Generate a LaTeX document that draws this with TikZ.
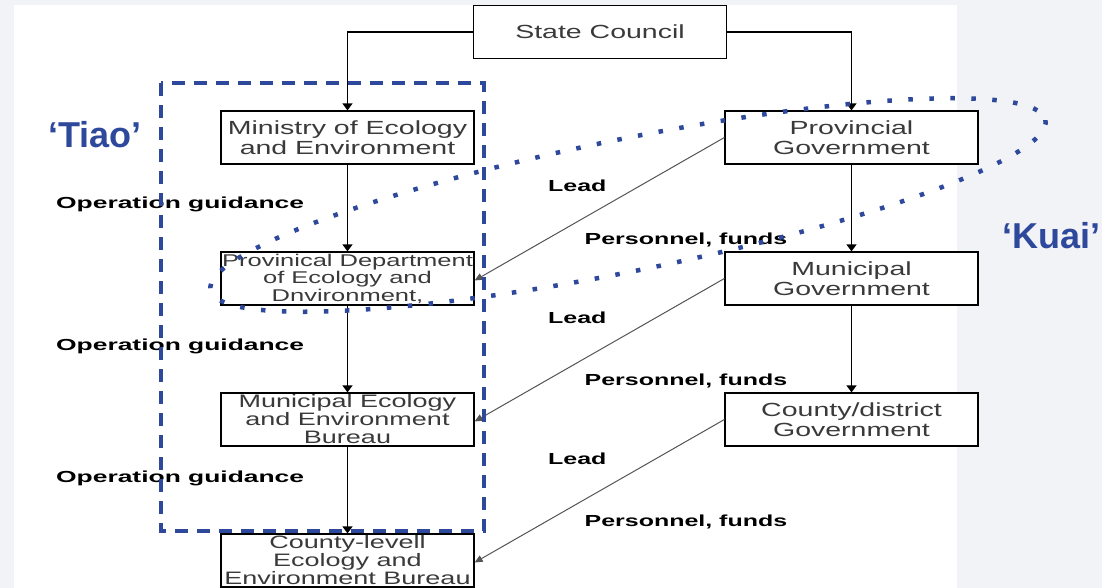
\documentclass[tikz,border=0pt]{standalone}
\usepackage{fontspec}
\setmainfont{Liberation Sans}
\newfontfamily\boxfont[FakeStretch=1.5]{Liberation Sans}
\newfontfamily\lblfont[FakeStretch=1.56]{Liberation Sans}
\newfontfamily\ogfont[FakeStretch=1.65]{Liberation Sans}
\usetikzlibrary{arrows.meta}
\definecolor{bgc}{HTML}{F1F3F6}
\definecolor{tblue}{HTML}{2E489C}
\definecolor{boxtxt}{HTML}{3A3A3A}
\definecolor{diag}{HTML}{555555}
\tikzset{
  orgbox/.style={draw=black, line width=1.2pt, fill=white, minimum width=253pt, minimum height=53pt,
     inner sep=0pt, align=center, text=boxtxt, font=\boxfont\fontsize{19}{19.5}\selectfont},
  orgbox3/.style={orgbox, font=\boxfont\fontsize{17}{17.5}\selectfont},
  orgbox3b/.style={orgbox, font=\boxfont\fontsize{18}{18}\selectfont},
  vline/.style={draw=black, line width=1.3pt, -{Triangle[width=10pt,length=7pt]}},
  dline/.style={draw=diag, line width=1pt, -{Triangle[width=7pt,length=8pt]}},
  lbl/.style={anchor=base west, inner sep=0pt, font=\lblfont\bfseries\fontsize{16}{16}\selectfont, text=black},
  oglbl/.style={lbl, font=\ogfont\bfseries\fontsize{16}{16}\selectfont},
  bigl/.style={anchor=base west, inner sep=0pt, font=\bfseries\fontsize{36}{36}\selectfont, text=tblue},
}
\begin{document}
\begin{tikzpicture}[x=1pt,y=-1pt]
\useasboundingbox (0,0) rectangle (1102,588);
\fill[bgc] (0,0) rectangle (1102,588);
\fill[white] (14,5) rectangle (957,588);

% boxes
\node[orgbox] (sc) at (600,32) {State Council};
\node[orgbox] (mee) at (347.5,137.5) {Ministry of Ecology\\and Environment};
\node[orgbox3] (pde) at (347.5,278.5) {Provinical Department\\of Ecology and\\Dnvironment,};
\node[orgbox3b] (meb) at (347.5,419.5) {Municipal Ecology\\and Environment\\Bureau};
\node[orgbox3b] (ceb) at (347.5,560.5) {County-levell\\Ecology and\\Environment Bureau};
\node[orgbox] (pg) at (851.5,137.5) {Provincial\\Government};
\node[orgbox] (mg) at (851.5,278.5) {Municipal\\Government};
\node[orgbox] (cg) at (851.5,419.5) {County/district\\Government};

% vertical connectors
\draw[vline] (sc.west) -| (mee.north);
\draw[vline] (sc.east) -| (pg.north);
\draw[vline] (mee) -- (pde);
\draw[vline] (pde) -- (meb);
\draw[vline] (meb) -- (ceb);
\draw[vline] (pg) -- (mg);
\draw[vline] (mg) -- (cg);

% diagonal connectors
\draw[dline] (pg.west) -- ([yshift=-2pt]pde.east);
\draw[dline] (mg.west) -- ([yshift=-2pt]meb.east);
\draw[dline] (cg.west) -- ([yshift=-2pt]ceb.east);

% labels
\node[oglbl] (og1) at (56,208) {Operation guidance};
\node[oglbl] (og2) at (56,350) {Operation guidance};
\node[oglbl] (og3) at (56,482) {Operation guidance};
\node[lbl] (ld1) at (548,191) {Lead};
\node[lbl] (ld2) at (548,323) {Lead};
\node[lbl] (ld3) at (548,464) {Lead};
\node[lbl] (pf1) at (584.5,244) {Personnel, funds};
\node[lbl] (pf2) at (584.5,385) {Personnel, funds};
\node[lbl] (pf3) at (584.5,526) {Personnel, funds};

% Tiao / Kuai
\node[bigl] (tiao) at (48,148) {‘Tiao’};
\node[bigl] (kuai) at (1002,248) {‘Kuai’};

% dashed Tiao frame
\draw[tblue, line width=3.5pt, dash pattern=on 13pt off 9pt] (161,83) rectangle (484,531);

% dotted Kuai ellipse
\draw[tblue, line width=4.5pt, dash pattern=on 4.5pt off 16.5pt, rotate around={11.5:(628,205)}]
  (628,205) ellipse [x radius=426, y radius=66];
\end{tikzpicture}
\end{document}
